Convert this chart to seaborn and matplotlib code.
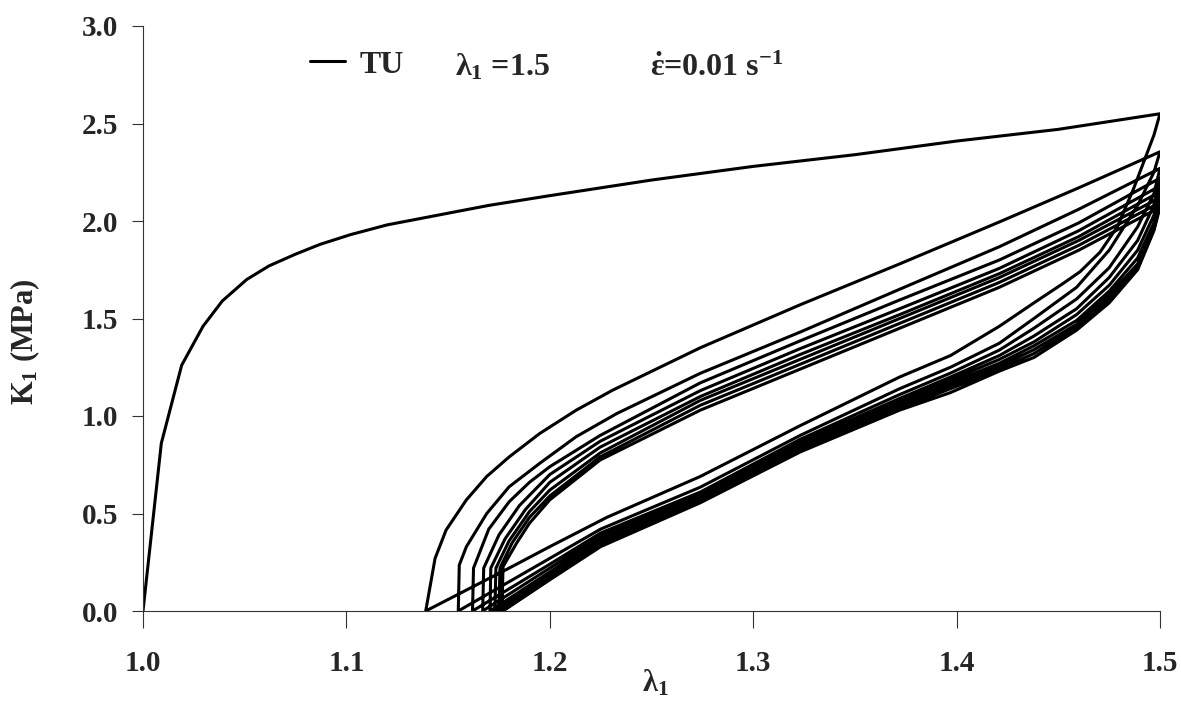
import matplotlib
matplotlib.use("Agg")
import matplotlib.pyplot as plt
import seaborn as sns
import pandas as pd
from matplotlib.lines import Line2D

# ---------------- data ----------------
# first loading (virgin) curve
load_lam = [1.000, 1.009, 1.019, 1.0295, 1.039, 1.051, 1.062, 1.075, 1.087, 1.102,
            1.120, 1.140, 1.170, 1.200, 1.250, 1.300, 1.350, 1.400, 1.450, 1.500]
load_K = [0.00, 0.86, 1.26, 1.46, 1.59, 1.70, 1.77, 1.83, 1.88, 1.93,
          1.98, 2.02, 2.08, 2.13, 2.21, 2.28, 2.34, 2.41, 2.47, 2.55]

# first unloading
unload1_lam = [1.500, 1.497, 1.4868, 1.479, 1.4705, 1.4607, 1.4524, 1.438, 1.421,
               1.397, 1.372, 1.323, 1.274, 1.228, 1.200, 1.180, 1.139]
unload1_K = [2.55, 2.44, 2.16, 1.97, 1.84, 1.74, 1.68, 1.58, 1.46,
             1.31, 1.20, 0.95, 0.69, 0.48, 0.33, 0.22, 0.00]

# later unloadings (common stretch grid, then end stretch at K = 0)
unload_lam = [1.500, 1.497, 1.489, 1.475, 1.459, 1.438, 1.421, 1.397, 1.372, 1.323, 1.274, 1.225, 1.200]
unload_K = [
    [2.355, 2.25, 2.08, 1.85, 1.66, 1.50, 1.373, 1.25, 1.14, 0.90, 0.635, 0.42, 0.27],
    [2.27, 2.14, 1.97, 1.76, 1.60, 1.45, 1.338, 1.22, 1.11, 0.88, 0.61, 0.40, 0.24],
    [2.22, 2.08, 1.90, 1.71, 1.55, 1.41, 1.31, 1.20, 1.09, 0.865, 0.595, 0.385, 0.22],
    [2.18, 2.03, 1.85, 1.67, 1.52, 1.38, 1.29, 1.185, 1.075, 0.855, 0.585, 0.37, 0.20],
    [2.15, 1.99, 1.81, 1.64, 1.49, 1.36, 1.27, 1.17, 1.06, 0.845, 0.575, 0.36, 0.19],
    [2.12, 1.97, 1.78, 1.62, 1.47, 1.34, 1.255, 1.155, 1.05, 0.835, 0.57, 0.35, 0.18],
    [2.095, 1.96, 1.76, 1.60, 1.455, 1.32, 1.24, 1.14, 1.04, 0.825, 0.565, 0.34, 0.17],
    [2.07, 1.95, 1.75, 1.58, 1.44, 1.30, 1.23, 1.12, 1.03, 0.815, 0.555, 0.33, 0.16],
]
unload_end_lam = [1.155, 1.162, 1.167, 1.1706, 1.173, 1.175, 1.1765, 1.177]

# reloadings
reload_lam = [
    [1.139, 1.1436, 1.149, 1.159, 1.169, 1.180, 1.195, 1.213, 1.231, 1.274, 1.323, 1.372, 1.421, 1.460, 1.500],
    [1.155, 1.1555, 1.159, 1.169, 1.180, 1.195, 1.213, 1.233, 1.274, 1.323, 1.372, 1.421, 1.460, 1.500],
    [1.162, 1.1625, 1.170, 1.180, 1.190, 1.200, 1.2247, 1.274, 1.323, 1.372, 1.421, 1.460, 1.500],
    [1.167, 1.1675, 1.175, 1.185, 1.200, 1.2247, 1.274, 1.323, 1.372, 1.421, 1.460, 1.500],
    [1.1706, 1.171, 1.178, 1.188, 1.200, 1.2247, 1.274, 1.323, 1.372, 1.421, 1.460, 1.500],
    [1.173, 1.1735, 1.180, 1.190, 1.200, 1.2247, 1.274, 1.323, 1.372, 1.421, 1.460, 1.500],
    [1.175, 1.1755, 1.1815, 1.190, 1.200, 1.2247, 1.274, 1.323, 1.372, 1.421, 1.460, 1.500],
    [1.1765, 1.177, 1.1836, 1.190, 1.200, 1.2247, 1.274, 1.323, 1.372, 1.421, 1.460, 1.500],
]
reload_K = [
    [0.00, 0.27, 0.415, 0.57, 0.69, 0.79, 0.91, 1.03, 1.133, 1.35, 1.57, 1.78, 1.995, 2.17, 2.355],
    [0.00, 0.236, 0.33, 0.50, 0.637, 0.757, 0.894, 1.013, 1.219, 1.43, 1.65, 1.868, 2.06, 2.27],
    [0.00, 0.22, 0.42, 0.56, 0.66, 0.74, 0.90, 1.17, 1.385, 1.595, 1.80, 1.99, 2.22],
    [0.00, 0.22, 0.39, 0.54, 0.70, 0.87, 1.13, 1.345, 1.55, 1.757, 1.95, 2.18],
    [0.00, 0.22, 0.37, 0.52, 0.66, 0.84, 1.10, 1.315, 1.52, 1.73, 1.92, 2.15],
    [0.00, 0.22, 0.36, 0.51, 0.62, 0.81, 1.08, 1.29, 1.50, 1.71, 1.90, 2.12],
    [0.00, 0.22, 0.35, 0.48, 0.59, 0.79, 1.055, 1.265, 1.475, 1.685, 1.875, 2.095],
    [0.00, 0.227, 0.347, 0.45, 0.57, 0.774, 1.03, 1.24, 1.45, 1.66, 1.85, 2.07],
]

x_ticks = [1.0, 1.1, 1.2, 1.3, 1.4, 1.5]
y_ticks = [0.0, 0.5, 1.0, 1.5, 2.0, 2.5, 3.0]

# ---------------- assemble the continuous test path ----------------
lam_path = list(load_lam) + list(unload1_lam)
K_path = list(load_K) + list(unload1_K)
for i in range(len(reload_lam)):
    lam_path += reload_lam[i]
    K_path += reload_K[i]
    lam_path += unload_lam + [unload_end_lam[i]]
    K_path += unload_K[i] + [0.0]
df = pd.DataFrame({"lam": lam_path, "K": K_path})

# ---------------- style ----------------
sns.set_theme(style="ticks")
plt.rcParams["font.family"] = ["Liberation Serif", "DejaVu Serif"]
plt.rcParams["font.weight"] = "bold"
plt.rcParams["mathtext.fontset"] = "custom"
plt.rcParams["mathtext.rm"] = "Liberation Serif:bold"
plt.rcParams["mathtext.it"] = "Liberation Serif:bold"
plt.rcParams["mathtext.bf"] = "Liberation Serif:bold"

fig = plt.figure(figsize=(11.81, 7.02), dpi=100)
ax = fig.add_axes([143 / 1181, 1 - 611 / 702, 1017 / 1181, 585 / 702])

sns.lineplot(data=df, x="lam", y="K", sort=False, estimator=None,
             color="black", linewidth=2.2, ax=ax)

ax.set_xlim(1.0, 1.5)
ax.set_ylim(0.0, 3.0)
ax.set_xticks(x_ticks)
ax.set_yticks(y_ticks)
ax.set_xticklabels([f"{v:.1f}" for v in x_ticks], fontsize=21, fontweight="bold")
ax.set_yticklabels([f"{v:.1f}" for v in y_ticks], fontsize=21, fontweight="bold")
ax.tick_params(axis="x", direction="out", length=12, width=0.8, color="#333333", pad=16)
ax.tick_params(axis="y", direction="out", length=8, width=0.8, color="#333333", pad=10)
for s in ["top", "right"]:
    ax.spines[s].set_visible(False)
for s in ["left", "bottom"]:
    ax.spines[s].set_linewidth(0.8)
    ax.spines[s].set_color("#333333")

ax.set_xlabel("λ$_1$", fontsize=22, fontweight="bold")
ax.set_ylabel("K$_1$ (MPa)", fontsize=22, fontweight="bold")
ax.xaxis.set_label_coords((655 - 143) / 1017, (611 - 668) / 585)
ax.yaxis.set_label_coords((42 - 143) / 1017, (611 - 342) / 585)

handle = Line2D([], [], color="black", linewidth=2.2)
ax.legend([handle], ["TU"], loc="center left", bbox_to_anchor=((310 - 143) / 1017, (611 - 65) / 585),
          frameon=False, handlelength=1.1, handletextpad=0.45,
          borderpad=0, borderaxespad=0, prop={"weight": "bold", "size": 23})
ax.text(1.1534, 2.745, "λ$_1$ =1.5", fontsize=23, fontweight="bold", ha="left", va="baseline")
ax.text(1.2493, 2.745, r"$\dot{\varepsilon}$=0.01 s$^{-1}$", fontsize=23, fontweight="bold",
        ha="left", va="baseline")

fig.savefig("out.png", dpi=100)
